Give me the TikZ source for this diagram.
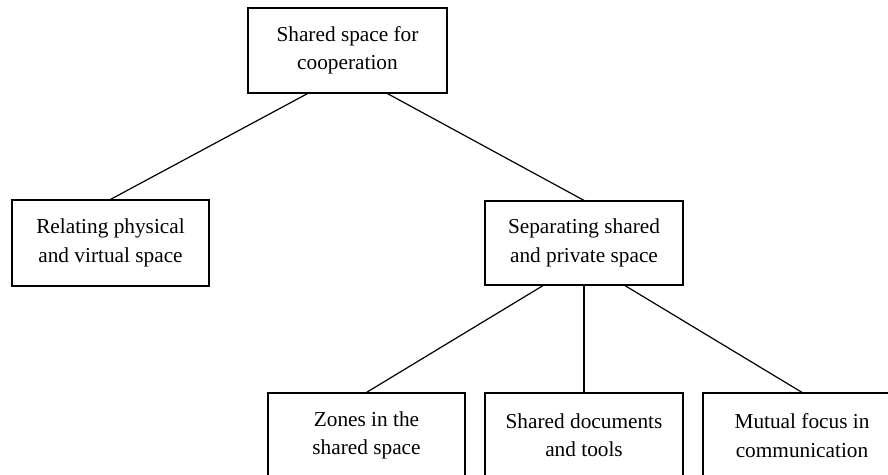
\documentclass[tikz,border=0pt]{standalone}
\usepackage{fontspec}
\setmainfont{Liberation Serif}
\begin{document}
\begin{tikzpicture}[x=1pt, y=-1pt,
  box/.style={draw, line width=1.2pt, rectangle, align=center, inner sep=0pt,
    minimum width=198pt, minimum height=85pt,
    font=\fontsize{21.3}{28.3}\selectfont},
  link/.style={line width=1.2pt}]
\clip (0,0) rectangle (888,474);
\node[box, minimum width=199pt] (shared) at (347.5, 50.5) {Shared space for\\cooperation};
\node[box, minimum width=197pt, minimum height=86pt] (relating) at (110.5, 243) {Relating physical\\and virtual space};
\node[box, minimum height=84pt] (separating) at (584, 243) {Separating shared\\and private space};
\node[box, minimum width=197pt] (zones) at (366.5, 435.5) {Zones in the\\shared space};
\node[box] (documents) at (584, 435.5) {Shared documents\\and tools};
\node[box] (focus) at (802, 435.5) {Mutual focus in\\communication};
\draw[link] ([xshift=-40pt]shared.south) -- (relating.north);
\draw[link] ([xshift=40pt]shared.south) -- (separating.north);
\draw[link] ([xshift=-41pt]separating.south) -- (zones.north);
\draw[link] (separating.south) -- (documents.north);
\draw[link] ([xshift=41pt]separating.south) -- (focus.north);
\end{tikzpicture}
\end{document}
